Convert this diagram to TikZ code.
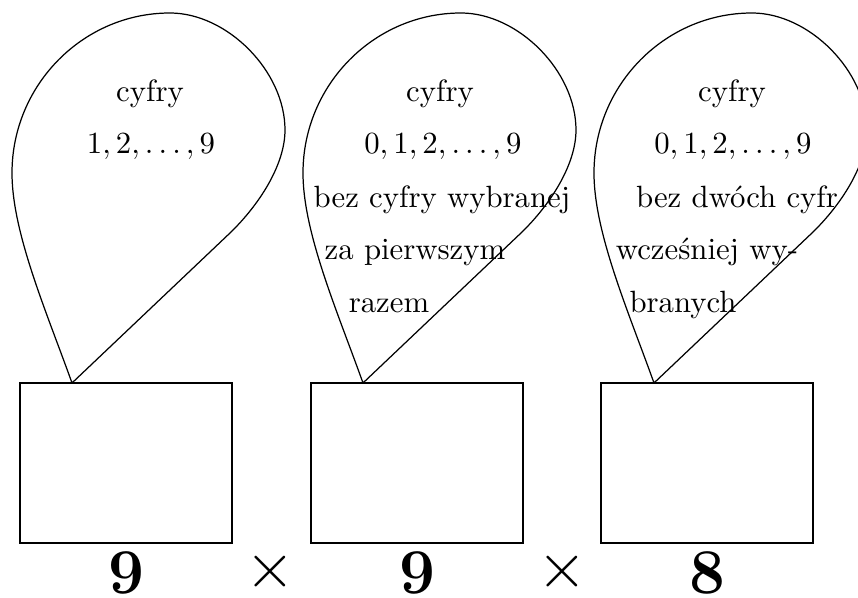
\documentclass[tikz,border=0pt]{standalone}
\begin{document}
\begin{tikzpicture}[x=0.325pt,y=-0.325pt,
  balloon/.style={line width=0.4pt},
  boxstyle/.style={draw, line width=0.7pt, inner sep=0pt, minimum width=212*0.325pt, minimum height=160*0.325pt},
  txt/.style={anchor=base, inner sep=0pt, font=\normalsize},
  num/.style={anchor=base, inner sep=0pt, font=\huge\bfseries},
  op/.style={anchor=base, inner sep=0pt, font=\huge}]
\useasboundingbox (0,0) rectangle (858,598);
\clip (0,0) rectangle (858,598);
% boxes
\node[boxstyle] (b1) at (126,463) {};
\node[boxstyle] (b2) at (417,463) {};
\node[boxstyle] (b3) at (707,463) {};
% balloon tips
\coordinate (t1) at (72,383);
\coordinate (t2) at (363,383);
\coordinate (t3) at (654,383);
\foreach \t in {t1,t2,t3}{
  \draw[balloon, shift={(\t)}] (0,0)
    .. controls (-25,-70) and (-60,-150) .. (-60,-210)
    .. controls (-60,-298) and (11,-370) .. (98,-370)
    .. controls (155,-370) and (213,-312) .. (213,-253)
    .. controls (213,-218) and (187,-178) .. (158,-150)
    -- (0,0);
}
% balloon 1 text
\node[txt] (a1) at (150,102) {cyfry};
\node[txt] (a2) at (151,154) {$1,2,\ldots,9$};
% balloon 2 text
\node[txt] (d1) at (440,102) {cyfry};
\node[txt] (d2) at (443,154) {$0,1,2,\ldots,9$};
\node[txt] (d3) at (442,208) {bez cyfry wybranej};
\node[txt] (d4) at (415,260) {za pierwszym};
\node[txt] (d5) at (389,313) {razem};
% balloon 3 text
\node[txt] (e1) at (732,102) {cyfry};
\node[txt] (e2) at (733,154) {$0,1,2,\ldots,9$};
\node[txt] (e3) at (737,208) {bez dwóch cyfr};
\node[txt] (e4) at (707,260) {wcześniej wy-};
\node[txt] (e5) at (683,313) {branych};
% bottom numbers
\node[num] (n1) at (126,594) {9};
\node[op] (x1) at (270,588) {$\times$};
\node[num] (n2) at (417,594) {9};
\node[op] (x2) at (562,588) {$\times$};
\node[num] (n3) at (707,594) {8};
\end{tikzpicture}
\end{document}
